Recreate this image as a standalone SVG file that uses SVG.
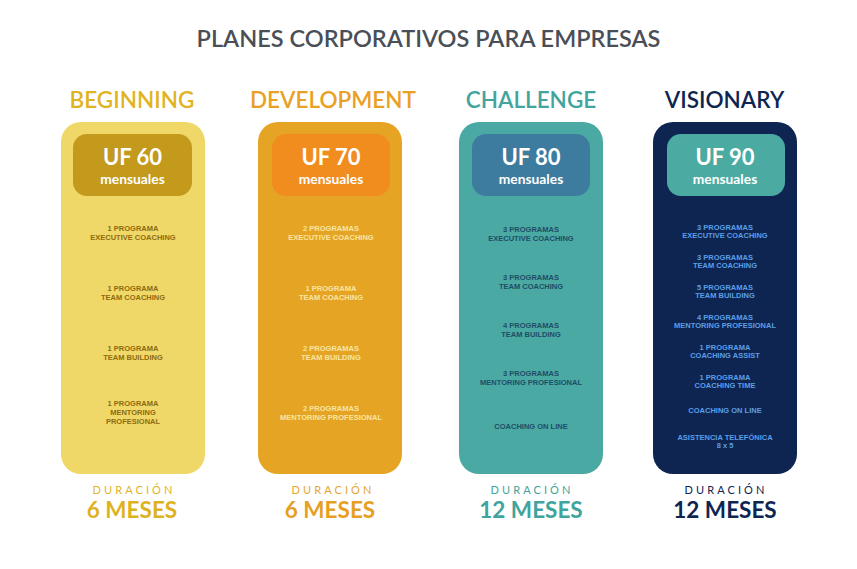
<svg xmlns="http://www.w3.org/2000/svg" width="857" height="569" viewBox="0 0 857 569">
<style>
.title{font-family:Lato,"Noto Sans",sans-serif;font-size:23.5px;font-weight:600;fill:#4A4F57;text-anchor:middle}
.plan{font-family:Lato,"Noto Sans",sans-serif;font-size:22.5px;font-weight:600;text-anchor:middle}
.uf{font-family:Lato,"Noto Sans",sans-serif;font-size:22px;font-weight:700;fill:#fff;text-anchor:middle}
.men{font-family:Lato,"Noto Sans",sans-serif;font-size:13.8px;font-weight:700;fill:#fff;text-anchor:middle}
.it{font-family:"Liberation Sans",Arial,sans-serif;font-size:7.5px;font-weight:700;text-anchor:middle}
.dur{font-family:Lato,"Noto Sans",sans-serif;font-size:11px;letter-spacing:3.1px;text-anchor:middle}
.mes{font-family:Lato,"Noto Sans",sans-serif;font-size:22.5px;font-weight:700;text-anchor:middle}
</style>
<rect width="857" height="569" fill="#fff"/>
<text class="title" x="428.5" y="47">PLANES CORPORATIVOS PARA EMPRESAS</text>

<g id="beginning">
<text class="plan" x="132" y="108" fill="#DFB41F">BEGINNING</text>
<rect x="61" y="122" width="144" height="352" rx="20" fill="#F0D868"/>
<rect x="73" y="134" width="119" height="62" rx="14" fill="#C39A1C"/>
<text class="uf" x="132.5" y="165">UF 60</text>
<text class="men" x="132.5" y="184">mensuales</text>
<g class="it" fill="#8E6B0E">
<text x="133" y="231">1 PROGRAMA</text><text x="133" y="240">EXECUTIVE COACHING</text>
<text x="133" y="291">1 PROGRAMA</text><text x="133" y="300">TEAM COACHING</text>
<text x="133" y="351">1 PROGRAMA</text><text x="133" y="360">TEAM BUILDING</text>
<text x="133" y="406">1 PROGRAMA</text><text x="133" y="415">MENTORING</text><text x="133" y="424">PROFESIONAL</text>
</g>
<text class="dur" x="134" y="494" fill="#DDB52A">DURACIÓN</text>
<text class="mes" x="132" y="518" fill="#DDB21F">6 MESES</text>
</g>

<g id="development">
<text class="plan" x="333" y="108" fill="#E9A125">DEVELOPMENT</text>
<rect x="258" y="122" width="144" height="352" rx="20" fill="#E6A425"/>
<rect x="272" y="134" width="118" height="62" rx="14" fill="#F18D1F"/>
<text class="uf" x="331" y="165">UF 70</text>
<text class="men" x="331" y="184">mensuales</text>
<g class="it" fill="#F8E6A0">
<text x="331" y="231">2 PROGRAMAS</text><text x="331" y="240">EXECUTIVE COACHING</text>
<text x="331" y="291">1 PROGRAMA</text><text x="331" y="300">TEAM COACHING</text>
<text x="331" y="351">2 PROGRAMAS</text><text x="331" y="360">TEAM BUILDING</text>
<text x="331" y="411">2 PROGRAMAS</text><text x="331" y="420">MENTORING PROFESIONAL</text>
</g>
<text class="dur" x="333" y="494" fill="#E6A631">DURACIÓN</text>
<text class="mes" x="330" y="518" fill="#E69F1F">6 MESES</text>
</g>

<g id="challenge">
<text class="plan" x="531" y="108" fill="#41A59E">CHALLENGE</text>
<rect x="459" y="122" width="144" height="352" rx="20" fill="#4AA9A2"/>
<rect x="472" y="134" width="118" height="62" rx="14" fill="#3E7C9F"/>
<text class="uf" x="531" y="165">UF 80</text>
<text class="men" x="531" y="184">mensuales</text>
<g class="it" fill="#1E4D66">
<text x="531" y="232">3 PROGRAMAS</text><text x="531" y="240.5">EXECUTIVE COACHING</text>
<text x="531" y="280">3 PROGRAMAS</text><text x="531" y="288.5">TEAM COACHING</text>
<text x="531" y="328">4 PROGRAMAS</text><text x="531" y="336.5">TEAM BUILDING</text>
<text x="531" y="376">3 PROGRAMAS</text><text x="531" y="384.5">MENTORING PROFESIONAL</text>
<text x="531" y="428.5">COACHING ON LINE</text>
</g>
<text class="dur" x="532" y="494" fill="#45A39D">DURACIÓN</text>
<text class="mes" x="531" y="518" fill="#3FA49D">12 MESES</text>
</g>

<g id="visionary">
<text class="plan" x="724.5" y="108" fill="#0E2552" font-weight="700">VISIONARY</text>
<rect x="653" y="122" width="144" height="352" rx="20" fill="#0E2552"/>
<rect x="667" y="134" width="118" height="62" rx="14" fill="#4BABA3"/>
<text class="uf" x="725" y="165">UF 90</text>
<text class="men" x="725" y="184">mensuales</text>
<g class="it" fill="#5B9FE6">
<text x="725" y="229.5">3 PROGRAMAS</text><text x="725" y="237.8">EXECUTIVE COACHING</text>
<text x="725" y="259.5">3 PROGRAMAS</text><text x="725" y="267.8">TEAM COACHING</text>
<text x="725" y="289.5">5 PROGRAMAS</text><text x="725" y="297.8">TEAM BUILDING</text>
<text x="725" y="319.5">4 PROGRAMAS</text><text x="725" y="327.8">MENTORING PROFESIONAL</text>
<text x="725" y="349.5">1 PROGRAMA</text><text x="725" y="357.8">COACHING ASSIST</text>
<text x="725" y="379.5">1 PROGRAMA</text><text x="725" y="387.8">COACHING TIME</text>
<text x="725" y="413">COACHING ON LINE</text>
<text x="725" y="439.5">ASISTENCIA TELEFÓNICA</text><text x="725" y="447.8">8 x 5</text>
</g>
<text class="dur" x="726" y="494" fill="#0E2552">DURACIÓN</text>
<text class="mes" x="725" y="518" fill="#0E2552">12 MESES</text>
</g>
</svg>
